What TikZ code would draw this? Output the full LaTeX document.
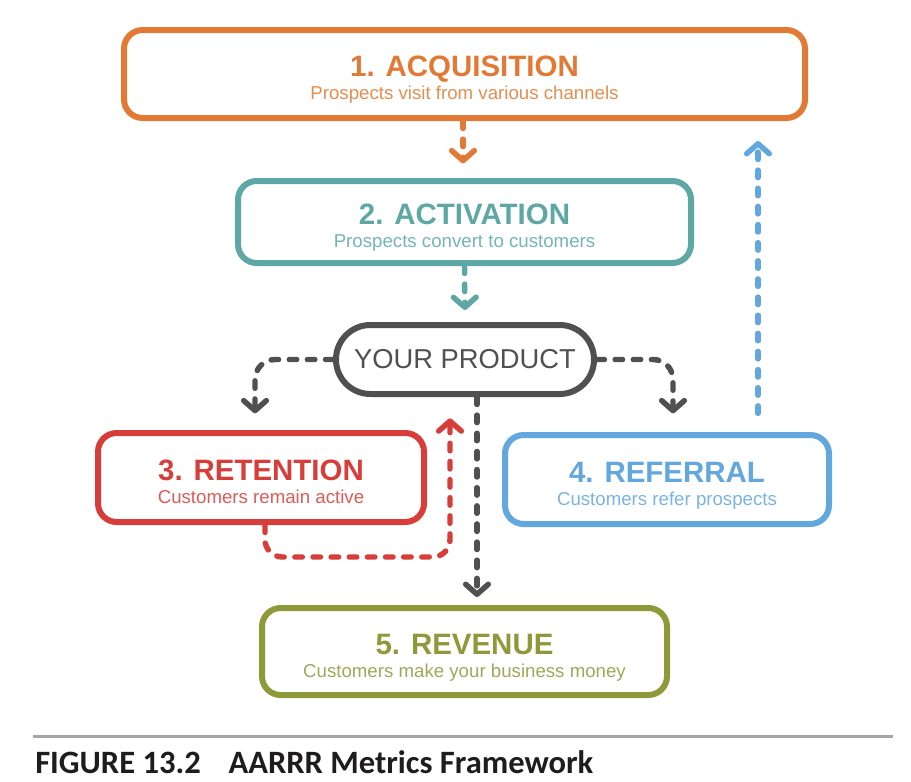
\documentclass[tikz,border=0pt]{standalone}
\usepackage{fontspec}
\setmainfont{Liberation Sans}
\newfontfamily\capfont{Carlito}
\usepackage{graphicx}
\usetikzlibrary{arrows.meta,calc}
\definecolor{cOrange}{RGB}{226,121,52}
\definecolor{cTeal}{RGB}{93,168,164}
\definecolor{cGray}{RGB}{80,80,80}
\definecolor{cRed}{RGB}{216,62,57}
\definecolor{cBlue}{RGB}{98,167,222}
\definecolor{cOlive}{RGB}{142,154,58}
\definecolor{cRule}{RGB}{165,165,165}
\definecolor{cCap}{RGB}{30,28,29}
\tikzset{
  stagebox/.style={draw=#1, line width=4.5pt, rounded corners=14pt, fill=white,
    inner sep=0pt},
  ttl/.style={text=#1, anchor=base, inner sep=0pt,
    font=\fontsize{22.1pt}{26pt}\selectfont\bfseries},
  sub/.style={text=#1!85!white, anchor=base, inner sep=0pt,
    font=\fontsize{14pt}{17pt}\selectfont},
  prodbox/.style={draw=cGray, line width=4.5pt, rounded corners=25.8pt, fill=white,
    inner sep=0pt, text=cGray, font=\fontsize{20.5pt}{24pt}\selectfont,
    minimum width=193.5pt, minimum height=51.75pt},
  flow/.style={draw=#1, line width=4.1pt, line cap=round,
    dash pattern=on 5.6pt off 8pt,
    -{Straight Barb[length=7.5pt,width=17pt,round]}},
}
\begin{document}
\begin{tikzpicture}[x=0.75pt,y=-0.75pt]
\useasboundingbox (0,0) rectangle (911,782);
\fill[white] (0,0) rectangle (911,782);

% boxes
\node[stagebox=cOrange, minimum width=510.75pt, minimum height=66pt] (box1) at (464.5,74) {};
\node[stagebox=cTeal, minimum width=339.75pt, minimum height=61.5pt] (box2) at (464.5,222) {};
\node[prodbox] (prod) at (465,359.5) {YOUR PRODUCT};
\node[stagebox=cRed, minimum width=244.5pt, minimum height=66.75pt] (box3) at (261,477.5) {};
\node[stagebox=cBlue, minimum width=243pt, minimum height=66.75pt] (box4) at (667,479.5) {};
\node[stagebox=cOlive, minimum width=303.75pt, minimum height=65.25pt] (box5) at (464.5,651.5) {};

% texts
\node[ttl=cOrange] (t1) at ($(box1.center)+(0,2.7)$) {1. ACQUISITION};
\node[sub=cOrange] (s1) at ($(box1.center)+(0,25.5)$) {Prospects visit from various channels};
\node[ttl=cTeal] (t2) at ($(box2.center)+(0,2.7)$) {2. ACTIVATION};
\node[sub=cTeal] (s2) at ($(box2.center)+(0,25.5)$) {Prospects convert to customers};
\node[ttl=cRed] (t3) at ($(box3.center)+(0,2.7)$) {3. RETENTION};
\node[sub=cRed] (s3) at ($(box3.center)+(0,25.5)$) {Customers remain active};
\node[ttl=cBlue] (t4) at ($(box4.center)+(0,2.7)$) {4. REFERRAL};
\node[sub=cBlue] (s4) at ($(box4.center)+(0,25.5)$) {Customers refer prospects};
\node[ttl=cOlive] (t5) at ($(box5.center)+(0,2.7)$) {5. REVENUE};
\node[sub=cOlive] (s5) at ($(box5.center)+(0,25.5)$) {Customers make your business money};

% connectors
\draw[flow=cOrange, shorten >=11pt] ($(box1.south)+(-1.5,0)$) -- ($(box2.north)+(-1.5,0)$);
\draw[flow=cTeal, shorten >=9pt] (box2.south) -- (prod.north);
\draw[flow=cGray, rounded corners=15pt, shorten >=12.5pt] (prod.west) -| ($(box3.north)+(-6,0)$);
\draw[flow=cGray, rounded corners=15pt, shorten >=14pt] (prod.east) -| ($(box4.north)+(6,0)$);
\draw[flow=cGray, shorten >=6pt] ($(prod.south)+(12,0)$) -- ($(box5.north)+(12.5,0)$);
\coordinate (rloop) at (357,557);
\draw[flow=cRed, rounded corners=13pt, shorten >=16pt] ($(box3.south)+(4,0)$) |- (rloop) -| ($(prod.south)+(-15,0)$);
\coordinate (bstart) at ($(box4.north)+(91,0)$);
\draw[flow=cBlue, shorten <=14pt, shorten >=15pt] (bstart) -- (bstart |- box1.south);

% caption
\draw[cRule, line width=2pt] (33,736.7) -- (893,736.7);
\node[anchor=base west, inner sep=0pt, text=cCap] (cap) at (35,773)
  {\resizebox{418.5pt}{!}{\capfont\bfseries FIGURE 13.2\hspace{0.85em}AARRR Metrics Framework}};
\end{tikzpicture}
\end{document}
